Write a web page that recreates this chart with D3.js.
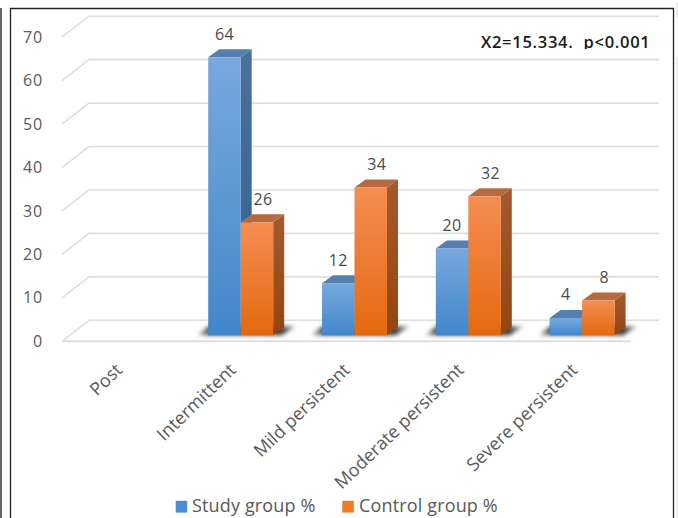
<!DOCTYPE html>
<html>
<head>
<meta charset="utf-8">
<script src="https://cdn.jsdelivr.net/npm/d3@7"></script>
<style>
  html, body { margin: 0; padding: 0; background: #fff; }
  svg { display: block; }
  text { font-family: "Open Sans", sans-serif; }
</style>
</head>
<body>
<svg id="chart" width="678" height="518"></svg>
<script>
const categories = ["Post", "Intermittent", "Mild persistent", "Moderate persistent", "Severe persistent"];
const seriesNames = ["Study group %", "Control group %"];
const studyValues = [null, 64, 12, 20, 4];
const controlValues = [null, 26, 34, 32, 8];
const yTicks = [0, 10, 20, 30, 40, 50, 60, 70];
const annotation = "X2=15.334.  p<0.001";

const svg = d3.select("#chart");
const defs = svg.append("defs");

// Perspective of the 3D box: the back wall sits up and to the right of the floor's front edge.
const depth = { dx: 27, dy: 21 };
const barDepth = { dx: 11, dy: 8 };

const frontLeft = 62, frontRight = 631;
const y = d3.scaleLinear().domain([0, 70]).range([341.3, 37.2]);
const barBaseShift = 6;

const x = d3.scaleBand().domain(categories)
  .range([frontLeft + 8, frontRight + 8]).paddingInner(0.429).paddingOuter(0.2145);
const group = d3.scaleBand().domain(seriesNames).range([0, x.bandwidth()]);

function gradient(id, top, bottom) {
  const g = defs.append("linearGradient").attr("id", id)
    .attr("x1", 0).attr("y1", 0).attr("x2", 0).attr("y2", 1);
  g.append("stop").attr("offset", 0).attr("stop-color", top);
  g.append("stop").attr("offset", 1).attr("stop-color", bottom);
}
gradient("front0", "#78a8de", "#4287cb");
gradient("front1", "#f58d52", "#e4690f");
gradient("side0", "#4b7199", "#2e6394");
gradient("side1", "#a25a30", "#934610");

// Floor shadow fades out towards both ends
const shadeFill = defs.append("linearGradient").attr("id", "shade")
  .attr("x1", 0).attr("y1", 0).attr("x2", 1).attr("y2", 0);
[[0, "#d0d0d0"], [0.12, "#4a4a4a"], [0.86, "#3c3c3c"], [1, "#c4c4c4"]].forEach(([o, c]) =>
  shadeFill.append("stop").attr("offset", o).attr("stop-color", c));
defs.append("filter").attr("id", "soft").attr("x", "-20%").attr("y", "-50%")
  .attr("width", "140%").attr("height", "200%")
  .append("feGaussianBlur").attr("stdDeviation", 2);

// The statistic note is cut off just under its baseline
defs.append("clipPath").attr("id", "noteClip")
  .append("rect").attr("x", 470).attr("y", 28).attr("width", 190).attr("height", 21);

const faces = [
  { top: "#557fae", side: "side0", front: "front0" },
  { top: "#b66a40", side: "side1", front: "front1" }
];

// Page edges and chart frame
svg.append("line").attr("x1", 1).attr("x2", 1).attr("y1", 8).attr("y2", 518)
  .attr("stroke", "#333").attr("stroke-width", 1.5);
svg.append("path").attr("d", "M10.5,518V8.5H673.5V518")
  .attr("fill", "none").attr("stroke", "#222").attr("stroke-width", 1.3);
svg.append("rect").attr("x", 676).attr("y", 2).attr("width", 2).attr("height", 16).attr("fill", "#eeeeee");
svg.append("rect").attr("x", 676).attr("y", 58).attr("width", 2).attr("height", 460).attr("fill", "#eeeeee");

// Gridlines run along the back wall and fold forward down the left wall
const grid = svg.append("g").attr("fill", "none").attr("stroke", "#dedede").attr("stroke-width", 1.6);
yTicks.forEach(t => {
  const yy = y(t);
  grid.append("polyline").attr("points", [
    [frontLeft, yy], [frontLeft + depth.dx, yy - depth.dy], [frontRight + depth.dx + 1, yy - depth.dy]
  ].join(" "));
});
svg.append("line").attr("x1", frontLeft).attr("x2", frontRight)
  .attr("y1", y(0)).attr("y2", y(0)).attr("stroke", "#dedede").attr("stroke-width", 2);

// Y axis labels
svg.append("g").selectAll("text").data(yTicks).join("text")
  .attr("x", 43).attr("y", d => y(d) + 5.6)
  .attr("text-anchor", "end").attr("font-size", 16).attr("letter-spacing", 0.9)
  .attr("fill", "#595959").text(d => d);

const rows = categories.map((c, i) => ({ c, values: [studyValues[i], controlValues[i]] }))
  .filter(r => r.values[0] !== null);

// Cast shadows on the floor, under each pair of bars
const h = v => y(0) - y(v);
const base = y(0) - barBaseShift;
svg.append("g").selectAll("path").data(rows).join("path")
  .attr("d", r => {
    const l = x(r.c), w = x.bandwidth();
    return `M${l - 11},${base}L${l + w + 9},${base}L${l + w + 23},${base - 9}L${l},${base - 9}Z`;
  })
  .attr("fill", "url(#shade)").attr("filter", "url(#soft)");

// Bars: side and top faces first, then the front face
rows.forEach(r => {
  r.values.forEach((v, s) => {
    const left = x(r.c) + group(seriesNames[s]);
    const w = group.bandwidth();
    const top = base - h(v);
    const g = svg.append("g");
    g.append("path")
      .attr("d", `M${left + w},${top}l${barDepth.dx},${-barDepth.dy}V${base - barDepth.dy}L${left + w},${base}Z`)
      .attr("fill", `url(#${faces[s].side})`);
    g.append("path")
      .attr("d", `M${left},${top}l${barDepth.dx},${-barDepth.dy}h${w}l${-barDepth.dx},${barDepth.dy}Z`)
      .attr("fill", faces[s].top);
    g.append("rect").attr("x", left).attr("y", top).attr("width", w).attr("height", h(v))
      .attr("fill", `url(#${faces[s].front})`);
  });
});

// Value labels above the bars
rows.forEach(r => {
  r.values.forEach((v, s) => {
    const left = x(r.c) + group(seriesNames[s]);
    svg.append("text")
      .attr("x", left + group.bandwidth() / 2 + (s === 0 ? 0 : 6))
      .attr("y", base - h(v) - 17.5)
      .attr("text-anchor", "middle").attr("font-size", 16).attr("letter-spacing", 0.4)
      .attr("fill", "#4a4a4a").text(v);
  });
});

// Slanted category labels end just below the floor
svg.append("g").selectAll("text").data(categories).join("text")
  .attr("transform", c => `translate(${x(c) + 22},364) rotate(-44)`)
  .attr("x", 0).attr("y", 10)
  .attr("text-anchor", "end").attr("font-size", 18)
  .attr("fill", "#595959").text(c => c);

// Statistic note
svg.append("g").attr("clip-path", "url(#noteClip)").append("text")
  .attr("x", 650.5).attr("y", 48.3).attr("text-anchor", "end")
  .attr("font-size", 16.5).attr("font-weight", 600).attr("letter-spacing", 0.72)
  .attr("fill", "#1a1a1a").style("white-space", "pre").text(annotation);

// Legend
const legendItems = [
  { name: seriesNames[0], color: "#4a8dd0", sx: 175.7, tx: 192 },
  { name: seriesNames[1], color: "#ef7b25", sx: 342.3, tx: 359 }
];
const legend = svg.append("g").selectAll("g").data(legendItems).join("g");
legend.append("rect").attr("x", d => d.sx).attr("y", 500.8).attr("width", 11.5).attr("height", 11.8)
  .attr("fill", d => d.color);
legend.append("text").attr("x", d => d.tx).attr("y", 512.3).attr("font-size", 18).attr("letter-spacing", 0.15)
  .attr("fill", "#595959").text(d => d.name);
</script>
</body>
</html>
